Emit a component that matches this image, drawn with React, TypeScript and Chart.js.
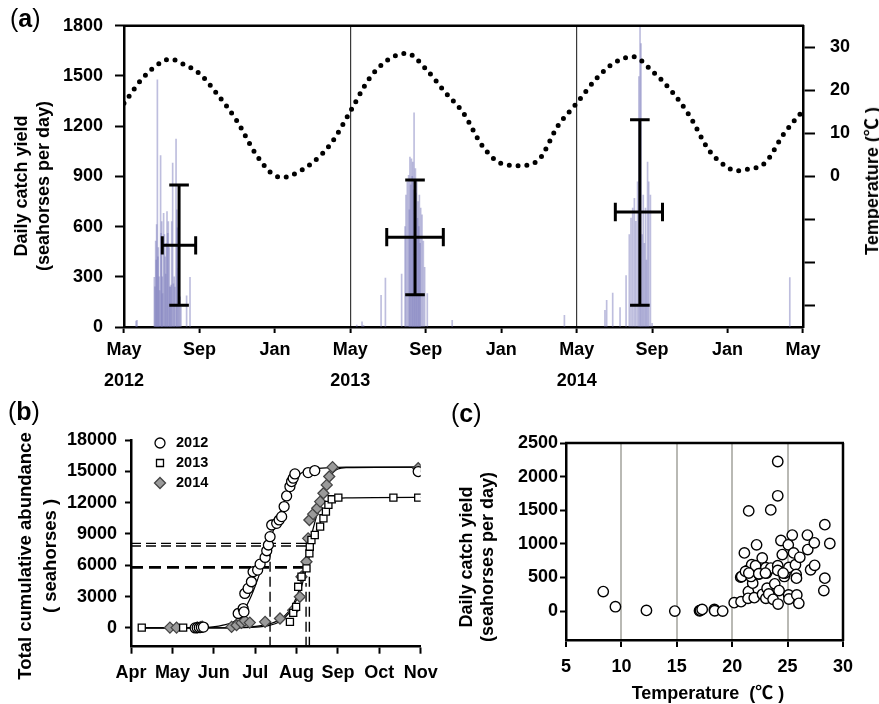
import React, { useEffect, useRef } from 'react';
import { Chart, registerables } from 'chart.js';

Chart.register(...registerables);

const FONT = "'Liberation Sans', Arial, 'Noto Sans CJK SC', sans-serif";
Chart.defaults.font.family = FONT;
Chart.defaults.color = '#000';

// ---------------- Panel (a) data ----------------
const monthTicksA = [0, 4, 8, 12, 16, 20, 24, 28, 32, 36];
const monthLabelsA: (string | string[])[] = [
  ['May', '2012'], 'Sep', 'Jan', ['May', '2013'], 'Sep', 'Jan', ['May', '2014'], 'Sep', 'Jan', 'May',
];
const catchTicksA = [0, 300, 600, 900, 1200, 1500, 1800];
const tempTicksA = [-30, -20, -10, 0, 10, 20, 30];

// temperature (months since May 2012)
const tempMonthsA = [0, 1, 2, 2.5, 3, 4, 5, 6, 7, 8, 8.5, 9, 10, 11, 12, 13, 14, 15, 16, 17, 18, 19, 20, 21, 22, 23, 24, 25, 26, 27, 28, 29, 30, 31, 32, 32.5, 33, 34, 35, 36];
const tempValuesA = [17.0, 22.9, 26.6, 27.3, 26.4, 23.9, 18.8, 12.8, 5.1, 0.2, -0.2, 0.5, 3.2, 7.8, 15.1, 22.7, 27.1, 28.6, 25.0, 19.7, 14.7, 7.1, 3.0, 2.5, 3.9, 11.7, 17.0, 22.5, 26.4, 27.8, 24.5, 20.0, 14.0, 6.2, 2.1, 1.3, 1.6, 3.2, 10.0, 15.3];

// daily catch bars
const bars2012Month = [0.64, 0.69, 1.61, 1.64, 1.68, 1.71, 1.73, 1.77, 1.80, 1.82, 1.86, 1.89, 1.94, 1.97, 2.00, 2.03, 2.05, 2.10, 2.14, 2.18, 2.21, 2.25, 2.28, 2.32, 2.35, 2.40, 2.43, 2.46, 2.50, 2.53, 2.58, 2.62, 2.66, 2.70, 2.76, 2.80, 2.83, 2.88, 2.92, 2.97, 3.02, 3.32, 3.50];
const bars2012Yield = [35, 40, 297, 240, 513, 400, 612, 1477, 420, 474, 300, 218, 1025, 560, 630, 300, 200, 680, 553, 420, 317, 500, 690, 560, 630, 474, 240, 238, 250, 630, 980, 258, 300, 238, 1123, 700, 592, 350, 277, 180, 120, 187, 297];
const bars2013Month = [12.34, 12.62, 12.70, 13.63, 13.86, 14.72, 14.90, 14.95, 15.02, 15.09, 15.13, 15.16, 15.20, 15.24, 15.28, 15.31, 15.35, 15.38, 15.42, 15.45, 15.49, 15.52, 15.56, 15.59, 15.63, 15.66, 15.70, 15.73, 15.80, 15.87, 15.94, 16.08, 17.40, 23.35];
const bars2013Yield = [12, 31, 10, 189, 293, 317, 600, 789, 867, 907, 700, 1015, 850, 1005, 900, 985, 820, 1280, 700, 946, 800, 867, 650, 749, 600, 789, 500, 710, 671, 513, 356, 199, 40, 70];
const bars2014Month = [25.50, 25.59, 25.91, 26.30, 26.62, 26.79, 26.88, 26.97, 27.06, 27.14, 27.23, 27.30, 27.36, 27.41, 27.47, 27.53, 27.59, 27.65, 27.70, 27.76, 27.82, 27.91, 28.00, 35.30];
const bars2014Yield = [100, 159, 203, 116, 307, 553, 651, 710, 769, 631, 867, 1497, 1800, 1694, 553, 789, 500, 710, 400, 985, 867, 789, 22, 295];

// mean +/- range error bars
const errCenterMonth = [2.92, 15.43, 27.35];
const errMonthLow = [2.03, 13.93, 26.05];
const errMonthHigh = [3.80, 16.93, 28.55];
const errMeanYield = [488, 537, 687];
const errYieldLow = [130, 193, 130];
const errYieldHigh = [848, 878, 1238];

// ---------------- Panel (b) data ----------------
const monthLabelsB = ['Apr', 'May', 'Jun', 'Jul', 'Aug', 'Sep', 'Oct', 'Nov'];
const cumTicksB = [0, 3000, 6000, 9000, 12000, 15000, 18000];
const seriesYearsB = ['2012', '2013', '2014'];

const c2012X = [1.55, 1.60, 1.65, 1.70, 1.75, 2.59, 2.71, 2.73, 2.75, 2.83, 2.91, 2.95, 3.06, 3.12, 3.24, 3.28, 3.32, 3.36, 3.40, 3.52, 3.58, 3.64, 3.70, 3.76, 3.84, 3.88, 3.92, 3.96, 4.28, 4.44, 6.94];
const c2012Y = [0, 20, 40, 60, 80, 1380, 1856, 1540, 3300, 3780, 4420, 5380, 5540, 6110, 6750, 7390, 7940, 8740, 9860, 10020, 10340, 10660, 11620, 12640, 13540, 14020, 14340, 14750, 14880, 15070, 14980];
const s2013X = [0.26, 1.26, 3.84, 3.92, 3.99, 4.04, 4.12, 4.24, 4.31, 4.32, 4.36, 4.44, 4.57, 4.65, 4.71, 4.77, 4.85, 5.01, 6.34, 6.94];
const s2013Y = [30, 30, 576, 1440, 2020, 3940, 4900, 5700, 7140, 7780, 8420, 8900, 9700, 10500, 11140, 11780, 12320, 12480, 12480, 12480];
const d2014X = [0.94, 1.10, 1.60, 1.68, 1.72, 2.43, 2.55, 2.67, 2.75, 2.87, 3.24, 3.60, 3.92, 4.08, 4.12, 4.24, 4.28, 4.31, 4.40, 4.50, 4.57, 4.65, 4.73, 4.79, 4.87, 6.94];
const d2014Y = [30, 30, 50, 80, 120, 100, 260, 480, 700, 510, 580, 900, 1700, 2980, 4900, 6340, 8580, 10340, 10900, 11460, 12100, 12900, 13700, 14500, 15400, 15300];

const fitX = [0.3, 1.0, 1.8, 2.2, 2.5, 2.7, 2.9, 3.1, 3.3, 3.5, 3.7, 3.9, 4.1, 4.4, 4.8, 5.2, 7.0];
const fit2012 = [0, 0, 60, 250, 650, 1500, 3000, 5100, 7700, 10000, 12100, 13900, 14800, 15200, 15350, 15400, 15400];
const fit2013 = [0, 0, 0, 0, 10, 20, 40, 90, 200, 420, 900, 1900, 3700, 8100, 11900, 12450, 12500];
const fit2014 = [0, 0, 0, 10, 30, 60, 110, 200, 350, 600, 1100, 2100, 4100, 9500, 14400, 15350, 15400];

const halfLineY = [8100, 7840, 5800];
const halfLineXEnd = [4.32, 4.32, 4.32];
const halfDropX = [3.36, 4.23, 4.31];
const halfDropTop = [7840, 4300, 5800];

// ---------------- Panel (c) data ----------------
const tempTicksC = [5, 10, 15, 20, 25, 30];
const yieldTicksC = [0, 500, 1000, 1500, 2000, 2500];
const tempC = [8.36, 9.46, 12.26, 14.82, 17.05, 17.14, 17.29, 18.39, 18.42, 19.14, 20.18, 20.80, 20.77, 20.86, 21.10, 21.49, 21.37, 21.46, 21.43, 21.76, 21.85, 21.70, 21.99, 22.11, 22.20, 22.41, 22.71, 23.04, 23.10, 22.74, 23.04, 23.15, 23.30, 23.48, 23.48, 23.69, 23.84, 24.11, 24.11, 24.11, 24.11, 24.23, 24.14, 24.40, 24.52, 24.70, 24.76, 25.06, 25.12, 25.09, 25.12, 25.42, 25.54, 25.71, 25.77, 25.80, 25.83, 26.01, 26.10, 26.79, 26.82, 27.08, 27.41, 27.44, 28.36, 28.36, 28.27, 28.81, 21.20, 21.50, 22.40, 23.00, 24.60];
const yieldC = [290, 65, 10, 0, 5, 10, 25, 25, 5, 0, 125, 140, 505, 515, 865, 1490, 600, 290, 190, 690, 415, 515, 200, 675, 985, 550, 790, 645, 565, 250, 190, 340, 255, 1505, 640, 175, 405, 2225, 1715, 675, 605, 305, 105, 1050, 840, 515, 565, 985, 650, 240, 180, 1130, 865, 690, 545, 490, 240, 115, 800, 1130, 915, 615, 1015, 680, 1285, 490, 305, 1005, 590, 565, 555, 565, 565];

// ---------------- helpers ----------------
const zip = (xs: number[], ys: number[]) => xs.map((x, i) => ({ x, y: ys[i] }));
const plain = (v: any) => String(v);

function errorSegments() {
  const capX = 0.52;
  const capY = 55;
  const pts: { x: number; y: number | null }[] = [];
  for (let i = 0; i < errCenterMonth.length; i++) {
    const cx = errCenterMonth[i];
    const my = errMeanYield[i];
    const segs = [
      [cx, errYieldLow[i], cx, errYieldHigh[i]],
      [cx - capX, errYieldHigh[i], cx + capX, errYieldHigh[i]],
      [cx - capX, errYieldLow[i], cx + capX, errYieldLow[i]],
      [errMonthLow[i], my, errMonthHigh[i], my],
      [errMonthLow[i], my - capY, errMonthLow[i], my + capY],
      [errMonthHigh[i], my - capY, errMonthHigh[i], my + capY],
    ];
    for (const s of segs) {
      pts.push({ x: s[0], y: s[1] }, { x: s[2], y: s[3] }, { x: s[2], y: null });
    }
  }
  return pts;
}

function framePlugin(top: boolean, right: boolean) {
  return {
    id: 'frame',
    afterDatasetsDraw(chart: any) {
      const { ctx, chartArea: a } = chart;
      ctx.save();
      ctx.strokeStyle = '#000';
      ctx.lineWidth = 2.5;
      ctx.beginPath();
      if (top) {
        ctx.moveTo(a.left - 1, a.top);
        ctx.lineTo(a.right + 1, a.top);
      }
      if (right) {
        ctx.moveTo(a.right, a.top);
        ctx.lineTo(a.right, a.bottom + 1);
      }
      ctx.stroke();
      ctx.restore();
    },
  };
}

const legendPluginB = {
  id: 'legendB',
  afterDraw(chart: any) {
    const ctx = chart.ctx;
    ctx.save();
    const mx = 160;
    const rowsY = [43, 63, 83];
    ctx.lineWidth = 1.3;
    ctx.strokeStyle = '#000';
    ctx.beginPath();
    ctx.arc(mx, rowsY[0], 5, 0, Math.PI * 2);
    ctx.fillStyle = '#fff';
    ctx.fill();
    ctx.stroke();
    ctx.beginPath();
    ctx.rect(mx - 3.5, rowsY[1] - 3.5, 7, 7);
    ctx.fill();
    ctx.stroke();
    ctx.beginPath();
    ctx.moveTo(mx, rowsY[2] - 5.5);
    ctx.lineTo(mx + 5.5, rowsY[2]);
    ctx.lineTo(mx, rowsY[2] + 5.5);
    ctx.lineTo(mx - 5.5, rowsY[2]);
    ctx.closePath();
    ctx.fillStyle = '#9a9a9a';
    ctx.fill();
    ctx.strokeStyle = '#444';
    ctx.stroke();
    ctx.fillStyle = '#000';
    ctx.font = `bold 14.5px ${FONT}`;
    ctx.textBaseline = 'middle';
    seriesYearsB.forEach((t, i) => ctx.fillText(t, mx + 16, rowsY[i]));
    ctx.restore();
  },
};

const tickFont = { family: FONT, size: 18, weight: 'bold' as const };

// ---------------- chart configs ----------------
function makeA(): any {
  const bars = [
    ...zip(bars2012Month, bars2012Yield),
    ...zip(bars2013Month, bars2013Yield),
    ...zip(bars2014Month, bars2014Yield),
  ];
  return {
    type: 'bar',
    data: {
      datasets: [
        {
          type: 'line', data: errorSegments(), xAxisID: 'x', yAxisID: 'y',
          borderColor: '#000', borderWidth: 3, pointRadius: 0, tension: 0, spanGaps: false, order: 0,
        },
        {
          type: 'line', data: zip(tempMonthsA, tempValuesA), xAxisID: 'x', yAxisID: 'yT',
          borderColor: '#000', borderWidth: 5, borderDash: [0, 8.8], borderCapStyle: 'round',
          pointRadius: 0, cubicInterpolationMode: 'monotone', fill: false, order: 1,
        },
        {
          type: 'bar', data: bars, xAxisID: 'x', yAxisID: 'y',
          backgroundColor: 'rgba(125,125,190,0.5)', barThickness: 1, grouped: false, order: 2, clip: 0,
        },
      ],
    },
    options: {
      responsive: false, animation: false, events: [],
      layout: { padding: { top: 22, left: 0, right: 0, bottom: 0 } },
      plugins: { legend: { display: false }, tooltip: { enabled: false } },
      scales: {
        x: {
          type: 'linear', position: 'bottom', min: 0, max: 36, offset: false,
          afterBuildTicks: (s: any) => { s.ticks = monthTicksA.map((v) => ({ value: v })); },
          afterFit: (s: any) => { s.height = 73; },
          ticks: {
            autoSkip: false, maxRotation: 0, padding: 1.5, color: '#000',
            font: { ...tickFont, lineHeight: 1.72 },
            callback: (_v: any, i: number) => monthLabelsA[i],
          },
          grid: {
            offset: false,
            color: (c: any) => (c.tick && (c.tick.value === 12 || c.tick.value === 24) ? '#3a3a3a' : 'rgba(0,0,0,0)'),
            lineWidth: 1.2, tickColor: '#000', tickWidth: 2, tickLength: 6,
          },
          border: { color: '#000', width: 2.5 },
        },
        y: {
          position: 'left', min: 0, max: 1800,
          afterBuildTicks: (s: any) => { s.ticks = catchTicksA.map((v) => ({ value: v })); },
          afterFit: (s: any) => { s.width = 124; },
          ticks: { padding: 12, color: '#000', font: tickFont, callback: plain },
          grid: { drawOnChartArea: false, color: '#000', tickColor: '#000', tickLength: 9, tickWidth: 2 },
          border: { color: '#000', width: 2.5 },
        },
        yT: {
          position: 'right', min: -35, max: 35,
          afterBuildTicks: (s: any) => { s.ticks = tempTicksA.map((v) => ({ value: v })); },
          afterFit: (s: any) => { s.width = 76; },
          ticks: { padding: 15, color: '#000', font: tickFont, callback: (v: any) => (v >= 0 ? String(v) : '') },
          grid: { drawOnChartArea: false, color: '#000', tickColor: '#000', tickLength: 12, tickWidth: 2 },
          border: { color: '#000', width: 2.5 },
        },
      },
    },
    plugins: [framePlugin(true, false)],
  };
}

function makeB(): any {
  const marker = { showLine: false, borderColor: '#000', borderWidth: 1.3, order: 0 };
  const curve = (ys: number[]) => ({
    data: zip(fitX, ys), showLine: true, pointRadius: 0, borderColor: '#000', borderWidth: 1.2,
    cubicInterpolationMode: 'monotone', order: 1,
  });
  const hLines = halfLineY.map((y, i) => ({
    data: [{ x: 0, y }, { x: halfLineXEnd[i], y }], showLine: true, pointRadius: 0,
    borderColor: '#000', borderWidth: i === 2 ? 2.6 : 1.4, borderDash: i === 2 ? [12, 6] : [10, 5], order: 2,
  }));
  const vLines = halfDropX.map((x, i) => ({
    data: [{ x, y: -1800 }, { x, y: halfDropTop[i] }], showLine: true, pointRadius: 0,
    borderColor: '#000', borderWidth: 1.4, borderDash: [10, 5], order: 2,
  }));
  return {
    type: 'scatter',
    data: {
      datasets: [
        { ...marker, data: zip(c2012X, c2012Y), pointStyle: 'circle', pointRadius: 5, backgroundColor: '#fff' },
        { ...marker, data: zip(s2013X, s2013Y), pointStyle: 'rect', pointRadius: 5, backgroundColor: '#fff' },
        { ...marker, data: zip(d2014X, d2014Y), pointStyle: 'rectRot', pointRadius: 5.5, backgroundColor: '#9a9a9a', borderColor: '#444' },
        curve(fit2012), curve(fit2013), curve(fit2014),
        ...hLines, ...vLines,
      ],
    },
    options: {
      responsive: false, animation: false, events: [],
      layout: { padding: { top: 40, left: 0, right: 49.3, bottom: 0 } },
      plugins: { legend: { display: false }, tooltip: { enabled: false } },
      scales: {
        x: {
          type: 'linear', min: 0, max: 7,
          afterBuildTicks: (s: any) => { s.ticks = monthLabelsB.map((_l, i) => ({ value: i })); },
          afterFit: (s: any) => { s.height = 57.3; },
          ticks: { autoSkip: false, maxRotation: 0, padding: 9, color: '#000', font: tickFont, callback: (_v: any, i: number) => monthLabelsB[i] },
          grid: { drawOnChartArea: false, color: '#000', tickColor: '#000', tickLength: 7, tickWidth: 2 },
          border: { color: '#000', width: 2.5 },
        },
        y: {
          min: -1800, max: 18000,
          afterBuildTicks: (s: any) => { s.ticks = cumTicksB.map((v) => ({ value: v })); },
          afterFit: (s: any) => { s.width = 131; },
          ticks: { padding: 8, color: '#000', font: tickFont, callback: plain },
          grid: { drawOnChartArea: false, color: '#000', tickColor: '#000', tickLength: 6, tickWidth: 2 },
          border: { color: '#000', width: 2.5 },
        },
      },
    },
    plugins: [legendPluginB],
  };
}

function makeC(): any {
  return {
    type: 'scatter',
    data: {
      datasets: [
        {
          data: zip(tempC, yieldC), pointStyle: 'circle', pointRadius: 5.2,
          backgroundColor: '#fff', borderColor: '#000', borderWidth: 1.4,
        },
      ],
    },
    options: {
      responsive: false, animation: false, events: [],
      layout: { padding: { top: 43, left: 0, right: 36, bottom: 0 } },
      plugins: { legend: { display: false }, tooltip: { enabled: false } },
      scales: {
        x: {
          type: 'linear', min: 5, max: 30,
          afterBuildTicks: (s: any) => { s.ticks = tempTicksC.map((v) => ({ value: v })); },
          afterFit: (s: any) => { s.height = 64; },
          ticks: { autoSkip: false, maxRotation: 0, padding: 9.5, color: '#000', font: tickFont, callback: plain },
          grid: {
            color: (c: any) => (c.tick && c.tick.value > 5 && c.tick.value < 30 ? '#b9b9b4' : 'rgba(0,0,0,0)'),
            lineWidth: 2, tickColor: '#000', tickLength: 7, tickWidth: 2,
          },
          border: { color: '#000', width: 2.5 },
        },
        y: {
          min: -430, max: 2500,
          afterBuildTicks: (s: any) => { s.ticks = yieldTicksC.map((v) => ({ value: v })); },
          afterFit: (s: any) => { s.width = 126; },
          ticks: { padding: 2, color: '#000', font: tickFont, callback: plain },
          grid: { drawOnChartArea: false, color: '#000', tickColor: '#000', tickLength: 6, tickWidth: 2 },
          border: { color: '#000', width: 2.5 },
        },
      },
    },
    plugins: [framePlugin(true, true)],
  };
}

function ChartBox({ left, top, width, height, make }: { left: number; top: number; width: number; height: number; make: () => any }) {
  const ref = useRef<HTMLCanvasElement>(null);
  useEffect(() => {
    const chart = new Chart(ref.current as HTMLCanvasElement, make());
    return () => chart.destroy();
  }, []);
  return (
    <canvas
      ref={ref}
      width={width}
      height={height}
      style={{ position: 'absolute', left, top, width, height, display: 'block' }}
    />
  );
}

const baseText: React.CSSProperties = {
  position: 'absolute', fontFamily: FONT, fontWeight: 'bold', color: '#000', whiteSpace: 'pre', margin: 0,
};

function Rot({ cx, cy, size, lh, text }: { cx: number; cy: number; size: number; lh: number; text: string }) {
  return (
    <div
      style={{
        ...baseText, left: cx, top: cy, fontSize: size, lineHeight: `${lh}px`, textAlign: 'center',
        transform: 'translate(-50%, -50%) rotate(-90deg)',
      }}
    >
      {text}
    </div>
  );
}

function PanelLabel({ x, y, letter }: { x: number; y: number; letter: string }) {
  return (
    <div style={{ ...baseText, left: x, top: y, fontSize: 25, fontWeight: 'normal', lineHeight: '28px' }}>
      (<b>{letter}</b>)
    </div>
  );
}

export default function App() {
  return (
    <div style={{ position: 'absolute', left: 0, top: 0, width: 879, height: 704, background: '#fff', overflow: 'hidden' }}>
      <ChartBox left={0} top={0} width={879} height={400} make={makeA} />
      <ChartBox left={0} top={400} width={470} height={304} make={makeB} />
      <ChartBox left={440} top={400} width={439} height={304} make={makeC} />

      <PanelLabel x={10} y={4} letter="a" />
      <PanelLabel x={8} y={397} letter="b" />
      <PanelLabel x={451} y={399} letter="c" />

      <Rot cx={32} cy={186} size={18} lh={22} text={'Daily catch yield\n(seahorses per day)'} />
      <Rot cx={872} cy={181} size={18} lh={20} text={'Temperature (℃ )'} />
      <Rot cx={37} cy={556} size={18.5} lh={25} text={'Total cumulative abundance\n( seahorses )'} />
      <Rot cx={477} cy={557} size={18} lh={21} text={'Daily catch yield\n(seahorses per day)'} />
      <div style={{ ...baseText, left: 708, top: 693, fontSize: 18, lineHeight: '20px', transform: 'translate(-50%, -50%)' }}>
        {'Temperature  (℃ )'}
      </div>
    </div>
  );
}
